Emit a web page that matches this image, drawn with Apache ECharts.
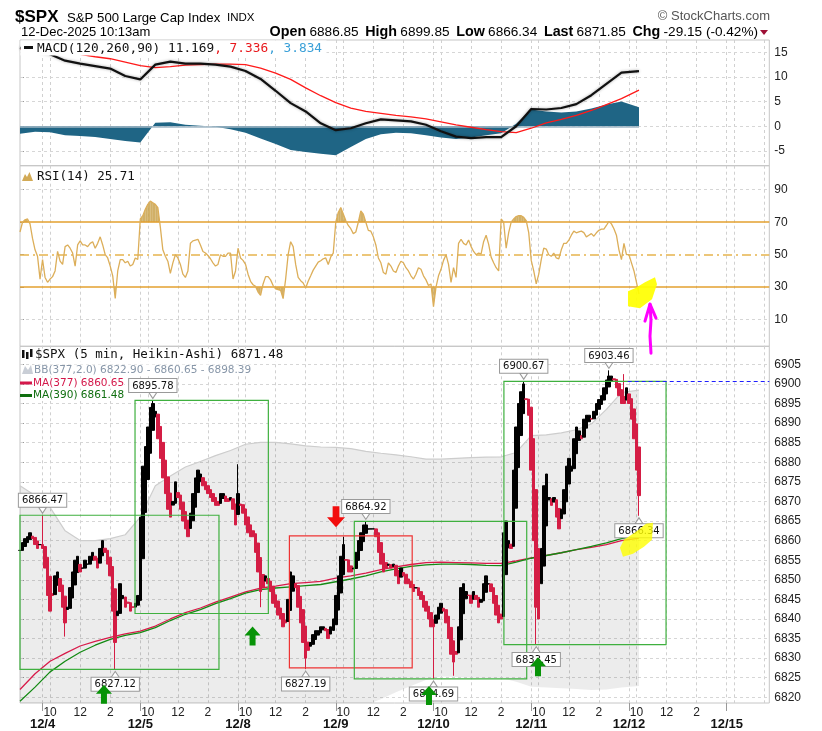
<!DOCTYPE html>
<html>
<head>
<meta charset="utf-8">
<script src="https://cdn.jsdelivr.net/npm/echarts@6.0.0/dist/echarts.min.js"></script>
<style>
html,body{margin:0;padding:0;background:#fff;overflow:hidden}
#chart{width:822px;height:731px}
</style>
</head>
<body>
<div id="chart"></div>
<script>
// ---------------- DATA ----------------
const dayNames = ['12/3','12/4','12/5','12/8','12/9','12/10','12/11','12/12','12/15'];
const firstDayStartSlot = 30;   // 12/3 shown from 14:30
const lastDaySlotCount = 18;    // 12/15 shown to 12:20
const hourTickNames = {600:'10', 720:'12', 840:'2'};

// Heikin-Ashi closes, 10-minute steps (12/3 14:30 ... 12/12 10:10)
const closes = [
 6857.5,6859.5,6860.5,6861,6862,6860.5,6859,6858,6859,
 6858,6853,6846,6842,6846,6851,6852,6847,6843,6839,6843,6848,6852,6855,6856,6852,6853,6855,6854,6856,6857,6855,6853,6858,6860,6857,6854,6851,6842,6834,6842,6849,6846,6843,6844,6842,6843,6844,6846,
 6866,6879,6884,6889,6894,6895,6893,6886,6881,6876,6872,6868,6866,6870,6875,6871,6868,6865,6863,6861,6867,6872,6876,6878,6877,6874,6873,6872,6871,6870,6869,6869,6872,6872,6870,6870,6871,6868,6864,
 6872,6869,6867,6864,6862,6861,6861,6857,6852,6847,6848,6851,6849,6847,6844,6843,6841,6840,6838,6839,6845,6852,6851,6848,6843,6839,6834,6830,6832,6834,6836,6837,6837,6838,6838,6837,6835,6838,6840,
 6846,6851,6856,6859,6855,6852,6852,6853,6857,6860,6862,6864,6864,6863,6863,6863,6861,6857,6854,6852,6853,6854,6853,6854,6851,6849,6853,6851,6849,6849,6848,6847,6848,6846,6845,6843,6842,6840,6838,
 6838,6841,6843,6844,6842,6839,6835,6831,6829,6831,6838,6848,6849,6847,6846,6844,6847,6845,6843,6845,6849,6851,6849,6847,6844,6841,6839,6840,6862,6865,6860,6858,6878,6889,6895,6898,6900,6896,6892,
 6878,6860,6843,6840,6858,6874,6877,6871,6869,6871,6866,6863,6868,6873,6879,6881,6879,6886,6889,6888,6886,6891,6892,6892,6891,6893,6895,6896,6897,6899,6901,6902,6902,6901,6899,6897,6895,6895,6899,
 6895,6891,6886,6878,6871.48
];

const rsi = [
 64,70,71.5,72,69,60,53,49,35,
 47,36,33,35,36.5,40,52,46,44,55,56,54,51,43,56,58.5,56,56,55,57,58,54,57,61,56,50,48,43,37,23,40,47,47,45,46,43,44,48,47,
 72,74,78,81,83,82,81,79,67,53,49,46,38.5,45,50,48,44,38,36,40,57,58.5,59,59.5,56,52,51,49.5,47.5,45,43,44,50,49,49,51,51,35,40,
 54,48,46.5,44,38,33.6,31.5,30.5,27,25,32,36.5,36.5,34.5,31,29,28.5,28,23,35,50,58,55,44,36,34,32.6,29.5,33.6,37,40.5,43,45.4,46.3,47.5,48,44,48.6,51,
 70,76,79,75,71,68,66,63,64,70,77,75,70,65,64.5,61,56,48,45,39,38,45,43,40,39,43,46,45,42,40,37,35,38,42,41,37,34.5,31,32,
 18,30,37,41,46.5,50,44,33,42,36,57,59.5,57,56,59,55,52,50,51,50.5,58,62,56.5,48.5,45,42,40,72,70,54,63.6,70,72,73.5,74,74,73,71,63.6,
 46.5,40,32,38,47,54,53.5,50,49,51,48,47.5,53,57,57,59,62,64.5,63.5,64,64.5,63.6,61,62,63,61.4,63.5,65,65.7,65.7,68,70.5,69,66,62,53,47,57,50,
 50,45,40,33,25.71
];

// smooth indicators sampled every hour (6 slots)
const sampleStep = 6;
const macdLine = [15.9,15.3,14.6,13.3,12.7,12.2,11.7,10.2,9.5,12.5,13.1,12.7,12.7,12.5,12.1,11.2,9.6,7.2,4.7,3.0,0.6,-0.8,-0.4,0.6,1.4,1.2,1.0,0.3,-1.0,-2.1,-2.4,-2.2,-2.2,0.0,3.5,3.4,3.7,4.5,6.3,8.6,10.9,11.169];
const macdSignal = [15.7,15.4,15.1,14.8,14.6,14.1,13.7,13.0,12.3,11.9,12.1,12.4,12.5,12.6,12.6,12.5,11.8,10.8,9.5,7.8,6.2,4.8,3.7,3.0,2.6,2.2,1.9,1.5,0.9,0.3,-0.2,-0.7,-1.1,-1.3,-0.4,0.7,1.4,2.2,3.2,4.4,5.6,7.336];
const macdHist = [-1.5,-1.1,-1.2,-1.8,-2.0,-2.2,-2.6,-3.0,-3.3,0.7,0.8,0.3,0.1,-0.1,-0.6,-1.3,-2.5,-3.6,-4.8,-5.2,-5.6,-5.9,-4.2,-2.6,-1.6,-1.3,-1.4,-1.8,-2.3,-2.6,-2.3,-1.8,-1.4,0.5,3.4,3.0,2.8,3.0,3.6,4.4,5.0,3.834];
const ma377 = [6822.0,6826.0,6829.2,6831.2,6833.1,6834.3,6835.3,6836.2,6836.9,6838.2,6840.0,6841.6,6842.8,6844.3,6845.6,6846.9,6847.9,6848.4,6849.0,6849.3,6849.6,6850.4,6851.0,6851.7,6852.6,6853.3,6853.9,6854.4,6854.5,6854.4,6854.3,6854.2,6854.2,6854.8,6855.6,6856.2,6856.9,6857.7,6858.3,6859.0,6860.0,6860.65];
const ma390 = [6819.0,6822.6,6826.5,6829.2,6831.5,6833.3,6834.8,6835.8,6836.5,6837.8,6839.6,6841.2,6842.4,6843.9,6845.2,6846.6,6847.5,6847.9,6848.2,6848.5,6848.8,6849.5,6850.2,6851.0,6852.0,6852.8,6853.4,6853.8,6854.0,6854.0,6853.9,6853.7,6853.6,6854.5,6855.5,6856.2,6856.9,6857.7,6858.5,6859.4,6860.5,6861.48];
const bbUpper = [6874.0,6871.5,6868.5,6862.5,6860.0,6860.0,6860.5,6861.5,6866.0,6874.0,6876.5,6878.8,6880.2,6881.7,6883.0,6884.6,6885.1,6885.1,6884.7,6884.2,6883.9,6883.8,6883.5,6882.8,6882.3,6881.9,6881.4,6880.8,6880.8,6881.0,6881.2,6881.3,6881.4,6882.5,6886.8,6887.0,6887.5,6888.3,6889.8,6893.5,6897.8,6898.39];
const bbLower = [6775,6785,6795,6803,6806,6808,6810,6811,6808,6803,6803,6804,6805,6807,6808,6809,6810,6811,6813,6814,6815,6816,6817,6818,6819.5,6821.3,6822.9,6824.4,6825.3,6825.2,6825.0,6824.9,6824.9,6824.0,6822.7,6822.5,6822.3,6822.1,6821.9,6822.0,6822.5,6822.9];

// labelled extremes (slot index, price, 1 = high)
const extremeSlots  = [9, 38, 53, 114, 138, 165, 201, 206, 235, 247];
const extremeValues = [6866.47, 6827.12, 6895.78, 6827.19, 6864.92, 6824.69, 6900.67, 6833.45, 6903.46, 6866.34];
const extremeIsHigh = [1, 0, 1, 0, 1, 0, 1, 0, 1, 0];
// other visible wicks
const wickSlots  = [18, 87, 96, 129, 173, 241];
const wickValues = [6835.5, 6879.5, 6843, 6861, 6825.5, 6902.5];

// annotation boxes (slot range, price range)
const boxStart = [-1.2, 45.9, 107.5, 133.4, 193.1];
const boxEnd   = [79.4, 99.1, 156.5, 202.2, 257.8];
const boxLow   = [6827.12, 6841.4, 6827.5, 6824.69, 6833.45];
const boxHigh  = [6866.47, 6895.78, 6861.2, 6864.92, 6900.67];
const boxIsRed = [0, 0, 1, 0, 0];
// signal arrows (slot, price at tip, 1 = up)
const arrowSlots  = [33.5, 92.8, 126.1, 163.2, 206.7];
const arrowValues = [6823.2, 6838.1, 6863.4, 6822.9, 6830.2];
const arrowUp     = [1, 1, 0, 1, 1];
// resistance line
const resistStartSlot = 242.5;
const resistLevel = 6900.67;

const priceTicks = [6820,6825,6830,6835,6840,6845,6850,6855,6860,6865,6870,6875,6880,6885,6890,6895,6900,6905];
const rsiTicks = [10,30,50,70,90];
const macdTicks = [-5,0,5,10,15];

// ---------------- BUILD ----------------
const cats = [], catDay = [], catMin = [];
dayNames.forEach((d, di) => {
  const s0 = di === 0 ? firstDayStartSlot : 0;
  const s1 = di === dayNames.length - 1 ? lastDaySlotCount : 39;
  for (let s = s0; s < s1; s++) {
    const m = 570 + 10 * s;
    cats.push(d + ' ' + Math.floor(m / 60) + ':' + String(m % 60).padStart(2, '0'));
    catDay.push(di); catMin.push(m);
  }
});
const N = cats.length;
const isDayStart = i => catMin[i] === 570 && catDay[i] > 0;
const isHour = i => hourTickNames[catMin[i]] !== undefined;
const isHourLabel = i => isHour(i) && catDay[i] < dayNames.length - 1;
const isGridLine = i => isDayStart(i) || isHour(i);

const lastIdx = closes.length - 1;
const H = arr => arr.map((v, k) => [k === arr.length - 1 ? lastIdx : k * sampleStep, v]);

// Heikin-Ashi open = midpoint of previous candle body
const haOpen = [];
closes.forEach((c, i) => { haOpen.push(i === 0 ? c : (haOpen[i - 1] + closes[i - 1]) / 2); });
const candles = closes.map((c, i) => {
  const o = haOpen[i];
  return [o, c, Math.min(o, c), Math.max(o, c)];
});
extremeSlots.forEach((s, k) => {
  const d = candles[s];
  if (extremeIsHigh[k]) d[3] = Math.max(d[3], extremeValues[k]);
  else d[2] = Math.min(d[2], extremeValues[k]);
});
wickSlots.forEach((s, k) => {
  const d = candles[s];
  if (wickValues[k] > d[3]) d[3] = wickValues[k];
  if (wickValues[k] < d[2]) d[2] = wickValues[k];
});

const UP = '#000000', DOWN = '#d41d44';
const grids = [
  {left: 20, right: 52.7, top: 40, height: 125.7},
  {left: 20, right: 52.7, top: 165.7, height: 180.6},
  {left: 20, right: 52.7, top: 346.3, height: 357.7}
].map(g => Object.assign(g, {show: true, borderColor: '#c6c6c6', borderWidth: 1, backgroundColor: 'transparent'}));

const vSplit = {show: true, interval: (i) => isGridLine(i), lineStyle: {color: '#d0d0d0', type: [3, 3], width: 1}};
function catAxis(gi, extra) {
  return Object.assign({
    type: 'category', gridIndex: gi, data: cats, boundaryGap: false,
    axisLine: {show: false}, axisTick: {show: false}, axisLabel: {show: false},
    splitLine: vSplit
  }, extra || {});
}
function helperAxis(gi) {
  return {type: 'value', gridIndex: gi, min: 0, max: N - 1, show: false, position: 'top', splitLine: {show: false}};
}
function yAx(gi, min, max, ticks) {
  return {
    type: 'value', gridIndex: gi, position: 'right', min: min, max: max,
    axisLine: {show: false},
    axisTick: {show: true, customValues: ticks, length: 4, lineStyle: {color: '#999'}},
    axisLabel: {show: true, customValues: ticks, formatter: v => String(v), color: '#222', fontSize: 12, fontFamily: 'Liberation Sans', margin: 5},
    splitLine: {show: false}
  };
}
const gridLineStyle = {color: '#d6d6d6', type: [3, 3], width: 1};
function gridLines(xi, yi, ticks) {
  return {
    type: 'line', xAxisIndex: xi, yAxisIndex: yi, data: [[0, ticks[0]]], symbol: 'none',
    lineStyle: {opacity: 0}, silent: true, z: 1,
    markLine: {silent: true, z: 1, symbol: ['none', 'none'], label: {show: false}, animation: false,
      lineStyle: gridLineStyle, data: ticks.map(v => ({yAxis: v}))}
  };
}
// fill between RSI line and a level, only where beyond it
function levelFill(level, above) {
  const segs = rsi.slice(0, -1).map((v, i) => [i, v, rsi[i + 1]]);
  return {
    type: 'custom', xAxisIndex: 5, yAxisIndex: 1, silent: true, z: 2, clip: true,
    data: segs, encode: {x: 0, y: [1, 2]},
    renderItem: (params, api) => {
      const i = api.value(0), v0 = api.value(1), v1 = api.value(2);
      const a = above ? v0 - level : level - v0;
      const b = above ? v1 - level : level - v1;
      if (a <= 0 && b <= 0) return null;
      let pts;
      if (a > 0 && b > 0) pts = [[i, level], [i, v0], [i + 1, v1], [i + 1, level]];
      else if (a > 0) { const t = a / (a - b); pts = [[i, level], [i, v0], [i + t, level]]; }
      else { const t = a / (a - b); pts = [[i + t, level], [i + 1, v1], [i + 1, level]]; }
      return {type: 'polygon', shape: {points: pts.map(p => api.coord(p))}, style: {fill: '#c9a24c', opacity: 0.85}};
    }
  };
}
const bbPts = H(bbUpper).map((p, k) => [p[0], p[1], bbLower[k]]);

const labelPoints = extremeSlots.map((s, k) => {
  const hi = extremeIsHigh[k] === 1;
  return {
    coord: [s, extremeValues[k]],
    value: extremeValues[k].toFixed(2),
    symbol: 'triangle', symbolSize: [8, 6], symbolRotate: hi ? 180 : 0,
    symbolOffset: [0, hi ? -5 : 5],
    itemStyle: {color: '#fff', borderColor: '#9a9a9a', borderWidth: 1},
    label: {show: true, position: hi ? 'top' : 'bottom', distance: 0,
      formatter: extremeValues[k].toFixed(2), color: '#111', fontSize: 10, fontFamily: 'DejaVu Sans',
      backgroundColor: '#fff', borderColor: '#9a9a9a', borderWidth: 1, padding: [2, 3, 1, 3]}
  };
});
const upPath = 'path://M8,0 L16,9 L11,9 L11,19 L5,19 L5,9 L0,9 Z';
const downPath = 'path://M5,0 L11,0 L11,10 L16,10 L8,19 L0,10 L5,10 Z';
const arrowPoints = arrowSlots.map((s, k) => ({
  coord: [s, arrowValues[k]],
  symbol: arrowUp[k] ? upPath : downPath,
  symbolSize: arrowUp[k] ? [16, 19] : [18, 21],
  symbolOffset: [0, arrowUp[k] ? '50%' : '-50%'],
  symbolKeepAspect: false,
  itemStyle: {color: arrowUp[k] ? '#079307' : '#f20d0d'},
  label: {show: false}
}));
const boxAreas = boxStart.map((s, k) => [
  {coord: [s, boxLow[k]], itemStyle: {color: 'rgba(0,0,0,0)', borderColor: boxIsRed[k] ? '#ee3333' : '#3fb03f', borderWidth: 1.2}},
  {coord: [boxEnd[k], boxHigh[k]]}
]);

const rsiPts = rsi.map((v, i) => [i, v]);

const option = {
  animation: false,
  backgroundColor: '#fff',
  grid: grids,
  xAxis: [
    catAxis(0), catAxis(1),
    catAxis(2, {
      axisLabel: {show: true, interval: (i) => isHourLabel(i), formatter: (v, i) => hourTickNames[catMin[i]] || '',
        color: '#222', fontSize: 12, fontFamily: 'Liberation Sans', margin: 4}
    }),
    catAxis(2, {
      position: 'bottom', splitLine: {show: false},
      axisTick: {show: true, interval: (i) => isDayStart(i), length: 8, lineStyle: {color: '#999'}},
      axisLabel: {show: true, interval: (i) => isDayStart(i), formatter: (v) => v.split(' ')[0],
        color: '#111', fontSize: 13, fontWeight: 'bold', fontFamily: 'Liberation Sans', margin: 15}
    }),
    helperAxis(0), helperAxis(1), helperAxis(2)
  ],
  yAxis: [
    yAx(0, -8.0, 17.5, macdTicks),
    yAx(1, -6.4, 104.8, rsiTicks),
    yAx(2, 6818.55, 6909.6, priceTicks)
  ],
  series: [
    // ---- MACD ----
    gridLines(4, 0, macdTicks),
    {type: 'line', xAxisIndex: 4, yAxisIndex: 0, data: H(macdHist), symbol: 'none', z: 2, silent: true,
      lineStyle: {width: 0}, areaStyle: {color: '#1f6585', opacity: 1},
      markLine: {silent: true, z: 3, symbol: ['none', 'none'], label: {show: false},
        lineStyle: {color: '#9fb6c4', type: 'solid', width: 1.5},
        data: [[{coord: [0, 0]}, {coord: [lastIdx, 0]}]]}},
    {type: 'line', xAxisIndex: 4, yAxisIndex: 0, data: H(macdSignal), symbol: 'none', z: 3, silent: true,
      lineStyle: {color: '#ff1a1a', width: 1.3}},
    {type: 'line', xAxisIndex: 4, yAxisIndex: 0, data: H(macdLine), symbol: 'none', z: 4, silent: true,
      lineStyle: {color: '#111', width: 2.2, shadowColor: 'rgba(0,0,0,0.35)', shadowBlur: 3}},
    // ---- RSI ----
    gridLines(5, 1, [10, 90]),
    levelFill(70, true),
    levelFill(30, false),
    {type: 'line', xAxisIndex: 5, yAxisIndex: 1, data: [[0, 50]], symbol: 'none', silent: true, lineStyle: {opacity: 0}, z: 3,
      markLine: {silent: true, z: 3, symbol: ['none', 'none'], label: {show: false},
        data: [
          {yAxis: 70, lineStyle: {color: '#e3a12f', type: 'solid', width: 1.5}},
          {yAxis: 30, lineStyle: {color: '#e3a12f', type: 'solid', width: 1.5}},
          {yAxis: 50, lineStyle: {color: '#e6b44e', type: [9, 4, 2, 4], width: 1.5}}
        ]}},
    {type: 'line', xAxisIndex: 5, yAxisIndex: 1, data: rsiPts, symbol: 'none', silent: true, z: 4,
      lineStyle: {color: '#dcae59', width: 1.3}},
    // ---- PRICE ----
    gridLines(6, 2, priceTicks),
    {type: 'custom', xAxisIndex: 6, yAxisIndex: 2, silent: true, z: 2, clip: true,
      data: bbPts, encode: {x: 0, y: [1, 2]},
      renderItem: (params, api) => {
        if (params.dataIndex !== 0) return null;
        const up = bbPts.map(p => api.coord([p[0], p[1]]));
        const lo = bbPts.map(p => api.coord([p[0], p[2]])).reverse();
        return {type: 'polygon', shape: {points: up.concat(lo)}, style: {fill: 'rgba(0,0,0,0.075)'}};
      }},
    {type: 'line', xAxisIndex: 6, yAxisIndex: 2, data: H(bbUpper), symbol: 'none', silent: true, z: 2,
      lineStyle: {color: '#cdcdcd', width: 1.2}},
    {type: 'line', xAxisIndex: 6, yAxisIndex: 2, data: H(ma377), symbol: 'none', silent: true, z: 3,
      lineStyle: {color: '#d81b4a', width: 1.3}},
    {type: 'line', xAxisIndex: 6, yAxisIndex: 2, data: H(ma390), symbol: 'none', silent: true, z: 3,
      lineStyle: {color: '#148a14', width: 1.3}},
    {type: 'candlestick', xAxisIndex: 2, yAxisIndex: 2, data: candles, barWidth: 3, silent: true, z: 4,
      itemStyle: {color: UP, color0: DOWN, borderColor: UP, borderColor0: DOWN, borderWidth: 1}},
    {type: 'line', xAxisIndex: 6, yAxisIndex: 2, data: [[0, 6860]], symbol: 'none', silent: true, clip: false,
      lineStyle: {opacity: 0}, z: 5,
      markArea: {silent: true, z: 5, data: boxAreas},
      markLine: {silent: true, z: 5, symbol: ['none', 'none'], label: {show: false},
        lineStyle: {color: '#1f1fff', type: [4, 3], width: 1.2},
        data: [[{coord: [resistStartSlot, resistLevel]}, {coord: [N - 1, resistLevel]}]]},
      markPoint: {silent: true, z: 6, data: labelPoints}},
    {type: 'line', xAxisIndex: 6, yAxisIndex: 2, data: [[0, 6860]], symbol: 'none', silent: true, clip: false,
      lineStyle: {opacity: 0}, z: 6,
      markPoint: {silent: true, z: 8, data: arrowPoints}}
  ]
};

const chart = echarts.init(document.getElementById('chart'), null, {width: 822, height: 731});
chart.setOption(option);

// ---------------- TEXT / OVERLAYS ----------------
const rsiAnchor = chart.convertToPixel({xAxisIndex: 5, yAxisIndex: 1}, [lastIdx, rsi[lastIdx]]);
const pxAnchor = chart.convertToPixel({xAxisIndex: 6, yAxisIndex: 2}, [extremeSlots[9], extremeValues[9]]);
const rel = (a, pts) => pts.map(p => [a[0] + p[0], a[1] + p[1]]);
const mono = '"DejaVu Sans Mono", monospace';
const sans = '"DejaVu Sans", sans-serif';
const arial = '"Liberation Sans", Arial, sans-serif';

const graphics = [
  {type: 'text', x: 15, y: 17, z: 100, style: {text: '$SPX', fontFamily: arial, fontSize: 17, fontWeight: 'bold', fill: '#000', verticalAlign: 'middle'}},
  {type: 'text', x: 67, y: 18, z: 100, style: {text: 'S&P 500 Large Cap Index', fontFamily: arial, fontSize: 13.2, fill: '#000', verticalAlign: 'middle'}},
  {type: 'text', x: 227, y: 18, z: 100, style: {text: 'INDX', fontFamily: arial, fontSize: 11.5, fill: '#000', verticalAlign: 'middle'}},
  {type: 'text', x: 21, y: 32, z: 100, style: {text: '12-Dec-2025 10:13am', fontFamily: arial, fontSize: 13, fill: '#000', verticalAlign: 'middle'}},
  {type: 'text', x: 770, y: 16, z: 100, style: {text: '\u00A9 StockCharts.com', fontFamily: arial, fontSize: 13, fill: '#555', align: 'right', verticalAlign: 'middle'}},
  {type: 'text', x: 758, y: 32, z: 100, style: {
    text: '{b|Open} {v|6886.85}  {b|High} {v|6899.85}  {b|Low} {v|6866.34}  {b|Last} {v|6871.85}  {b|Chg} {v|-29.15 (-0.42%)}',
    align: 'right', verticalAlign: 'middle',
    rich: {b: {fontFamily: arial, fontSize: 14.3, fontWeight: 'bold', fill: '#000'}, v: {fontFamily: arial, fontSize: 13.6, fill: '#000'}}}},
  {type: 'polygon', z: 100, shape: {points: [[760, 30], [768, 30], [764, 35]]}, style: {fill: '#9e1036'}},
  // MACD legend
  {type: 'rect', z: 100, shape: {x: 20.5, y: 40.5, width: 306, height: 15}, style: {fill: '#fff'}},
  {type: 'rect', z: 101, shape: {x: 24, y: 46, width: 9, height: 3}, style: {fill: '#111'}},
  {type: 'text', x: 37, y: 48.5, z: 101, style: {
    text: '{k|MACD(120,260,90) 11.169}{r|, 7.336}{b|, 3.834}', verticalAlign: 'middle',
    rich: {k: {fontFamily: mono, fontSize: 12.8, fill: '#111'}, r: {fontFamily: mono, fontSize: 12.8, fill: '#e8181c'}, b: {fontFamily: mono, fontSize: 12.8, fill: '#3aa0d8'}}}},
  // RSI legend
  {type: 'polygon', z: 101, shape: {points: [[22, 181], [25, 174], [27, 177], [29.5, 172], [33, 181]]}, style: {fill: '#d2aa56'}},
  {type: 'text', x: 37, y: 177, z: 101, style: {text: 'RSI(14) 25.71', fontFamily: mono, fontSize: 12.5, fill: '#111', verticalAlign: 'middle'}},
  // price legends
  {type: 'rect', z: 101, shape: {x: 22, y: 350, width: 2.5, height: 8}, style: {fill: '#111'}},
  {type: 'rect', z: 101, shape: {x: 26, y: 352, width: 2.5, height: 7}, style: {fill: '#111'}},
  {type: 'rect', z: 101, shape: {x: 30, y: 349, width: 2.5, height: 8}, style: {fill: '#111'}},
  {type: 'text', x: 35, y: 355, z: 101, style: {text: '$SPX (5 min, Heikin-Ashi) 6871.48', fontFamily: mono, fontSize: 12.5, fill: '#111', verticalAlign: 'middle', backgroundColor: '#fff'}},
  {type: 'polygon', z: 101, shape: {points: [[22, 374], [25, 366], [28, 370], [31, 365], [33, 374]]}, style: {fill: '#c9ced6'}},
  {type: 'text', x: 34, y: 370, z: 101, style: {text: 'BB(377,2.0) 6822.90 - 6860.65 - 6898.39', fontFamily: sans, fontSize: 10.5, fill: '#8796a8', verticalAlign: 'middle', backgroundColor: '#fff'}},
  {type: 'rect', z: 101, shape: {x: 20, y: 381.5, width: 12, height: 3}, style: {fill: '#d4174a'}},
  {type: 'text', x: 33, y: 383, z: 101, style: {text: 'MA(377) 6860.65', fontFamily: sans, fontSize: 10.5, fill: '#d4174a', verticalAlign: 'middle', backgroundColor: '#fff'}},
  {type: 'rect', z: 101, shape: {x: 20, y: 394, width: 12, height: 3}, style: {fill: '#0f6e0f'}},
  {type: 'text', x: 33, y: 395.5, z: 101, style: {text: 'MA(390) 6861.48', fontFamily: sans, fontSize: 10.5, fill: '#0f6e0f', verticalAlign: 'middle', backgroundColor: '#fff'}},
  // highlighter marks
  {type: 'polygon', z: 110, shape: {points: rel(rsiAnchor, [[-11, -3], [-11, 12], [1, 14], [13, 5], [18, -10], [16, -17], [6, -12], [-4, -6]])}, style: {fill: '#ffff00', opacity: 0.92}},
  {type: 'polygon', z: 110, shape: {points: rel(pxAnchor, [[-19, 32], [-16, 41], [-6, 38], [5, 31], [13, 24], [14, 7], [7, 8], [-3, 16], [-15, 24]])}, style: {fill: '#ffff00', opacity: 0.8}},
  {type: 'polyline', z: 111, shape: {points: rel(rsiAnchor, [[12, 59], [11, 42], [12, 26], [11, 10]])}, style: {stroke: '#ff00ff', lineWidth: 3, fill: null, lineCap: 'round', lineJoin: 'round'}},
  {type: 'polyline', z: 111, shape: {points: rel(rsiAnchor, [[6, 27], [11, 10], [17, 24]])}, style: {stroke: '#ff00ff', lineWidth: 3, fill: null, lineCap: 'round', lineJoin: 'round'}}
];
chart.setOption({graphic: graphics});
</script>
</body>
</html>
